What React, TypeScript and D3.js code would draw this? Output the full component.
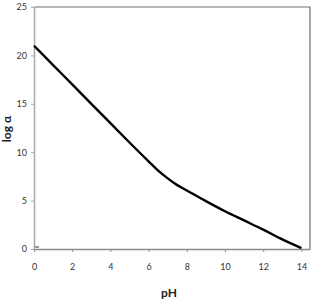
import { useEffect, useRef } from "react";
import * as d3 from "d3";

const pH = [0, 1, 2, 3, 4, 5, 6, 6.5, 7, 7.5, 8, 9, 10, 11, 12, 13, 14];
const logAlpha = [21, 19, 17, 15, 13, 11, 9.05, 8.1, 7.3, 6.6, 6.05, 4.95, 3.9, 2.95, 2.0, 1.0, 0.1];
const xTicks = [0, 2, 4, 6, 8, 10, 12, 14];
const yTicks = [0, 5, 10, 15, 20, 25];

const App = () => {
  const svgRef = useRef<SVGSVGElement>(null);

  useEffect(() => {
    const width = 315;
    const height = 303;
    const margin = { top: 7, right: 5, bottom: 54, left: 34 };

    const svg = d3.select(svgRef.current).attr("width", width).attr("height", height);
    svg.selectAll("*").remove();

    const x = d3.scaleLinear().domain([0, 14.45]).range([margin.left, width - margin.right]);
    const y = d3.scaleLinear().domain([0, 25]).range([height - margin.bottom, margin.top]);

    // top and right borders
    svg
      .append("path")
      .attr("d", `M${x(0)},${y(25)}H${x(14.45)}V${y(0)}`)
      .attr("fill", "none")
      .attr("stroke", "#6e6e6e")
      .attr("stroke-width", 1.2);

    const xAxis = svg
      .append("g")
      .attr("transform", `translate(0,${y(0)})`)
      .call(d3.axisBottom(x).tickValues(xTicks).tickSizeInner(3).tickSizeOuter(0).tickPadding(12));
    xAxis.select(".domain").attr("stroke", "#8a8a8a").attr("stroke-width", 1.5);
    xAxis.selectAll(".tick line").attr("stroke", "#8a8a8a");

    const yAxis = svg
      .append("g")
      .attr("transform", `translate(${x(0)},0)`)
      .call(d3.axisLeft(y).tickValues(yTicks).tickSizeInner(3).tickSizeOuter(0).tickPadding(4));
    yAxis.select(".domain").attr("stroke", "#a8a8a8").attr("stroke-width", 1.5);
    yAxis.selectAll(".tick line").attr("stroke", "#a8a8a8");

    svg
      .selectAll(".tick text")
      .attr("fill", "#333")
      .attr("font-size", 9)
      .attr("font-family", "Lato, 'Open Sans', sans-serif");

    const line = d3
      .line<number>()
      .x((_, i) => x(pH[i]))
      .y((d) => y(d))
      .curve(d3.curveMonotoneX);

    svg
      .append("path")
      .datum(logAlpha)
      .attr("d", line)
      .attr("fill", "none")
      .attr("stroke", "#000")
      .attr("stroke-width", 2.4);

    // small marker at origin
    svg
      .append("rect")
      .attr("x", x(0) + 1)
      .attr("y", y(0) - 3)
      .attr("width", 4)
      .attr("height", 2)
      .attr("fill", "#999");

    svg
      .append("text")
      .attr("x", 169)
      .attr("y", 297)
      .attr("text-anchor", "middle")
      .attr("font-size", 12)
      .attr("font-weight", "bold")
      .attr("font-family", "Lato, 'Open Sans', sans-serif")
      .attr("fill", "#222")
      .text("pH");

    svg
      .append("text")
      .attr("transform", `translate(11,129) rotate(-90)`)
      .attr("text-anchor", "middle")
      .attr("font-size", 12)
      .attr("font-weight", "bold")
      .attr("font-family", "Lato, 'Open Sans', sans-serif")
      .attr("fill", "#222")
      .text("log α");
  }, []);

  return (
    <div style={{ position: "absolute", left: 0, top: 0 }}>
      <svg ref={svgRef}></svg>
    </div>
  );
};

export default App;
